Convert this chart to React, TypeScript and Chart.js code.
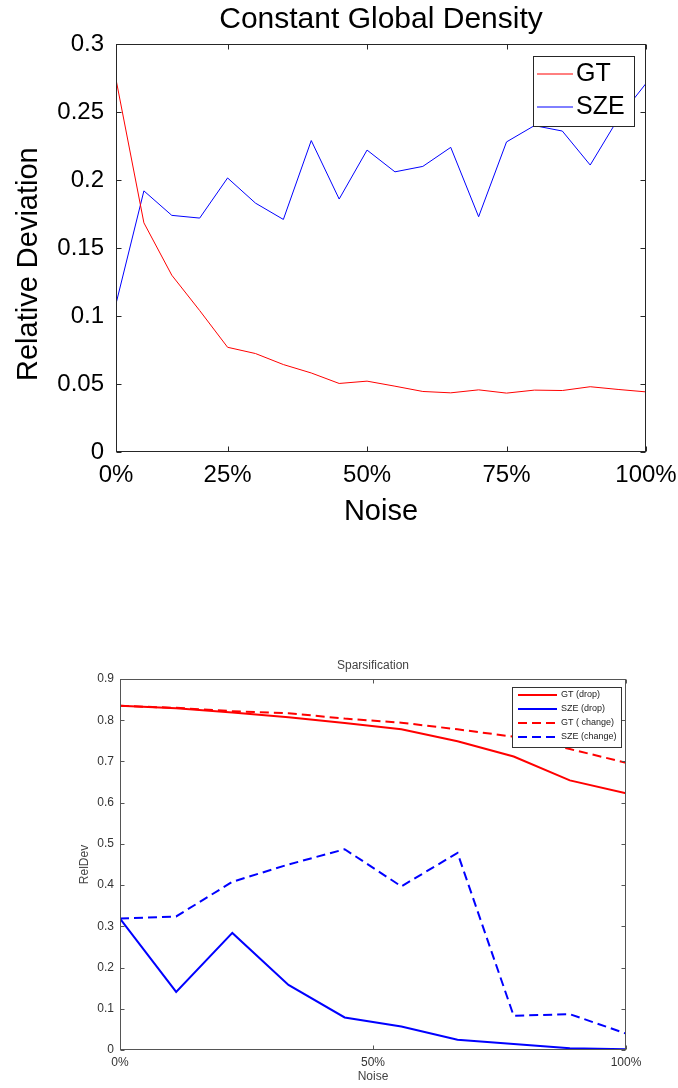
import React, { useEffect, useRef } from "react";
import { Chart, registerables } from "chart.js";

Chart.register(...registerables);

const FONT = "'Liberation Sans', Arial, Helvetica, sans-serif";

// ---------- Chart 1: Constant Global Density ----------
const topTitle = "Constant Global Density";
const topYLabel = "Relative Deviation    ";
const topNoiseIndex = [1, 2, 3, 4, 5, 6, 7, 8, 9, 10, 11, 12, 13, 14, 15, 16, 17, 18, 19, 20];
const topXTickValues = [1, 5, 10, 15, 20];
const topXTickLabels = ["0%", "25%", "50%", "75%", "100%"];
const topYTickValues = [0, 0.05, 0.1, 0.15, 0.2, 0.25, 0.3];
const topYTickLabels = ["0", "0.05", "0.1", "0.15", "0.2", "0.25", "0.3"];
const topGT = [0.274, 0.1685, 0.13, 0.104, 0.077, 0.0724, 0.0643, 0.0581, 0.0504, 0.0521, 0.0484, 0.0445, 0.0435, 0.0457, 0.0433, 0.0455, 0.0452, 0.048, 0.046, 0.0442];
const topSZE = [0.109, 0.192, 0.174, 0.172, 0.2015, 0.183, 0.171, 0.229, 0.186, 0.222, 0.206, 0.21, 0.224, 0.173, 0.228, 0.24, 0.236, 0.211, 0.245, 0.271];

// ---------- Chart 2: Sparsification ----------
const botTitle = "Sparsification";
const botNoise = [0, 11.1, 22.2, 33.3, 44.4, 55.6, 66.7, 77.8, 88.9, 100];
const botXTickValues = [0, 50, 100];
const botXTickLabels = ["0%", "50%", "100%"];
const botYTickValues = [0, 0.1, 0.2, 0.3, 0.4, 0.5, 0.6, 0.7, 0.8, 0.9];
const botYTickLabels = ["0", "0.1", "0.2", "0.3", "0.4", "0.5", "0.6", "0.7", "0.8", "0.9"];
const gtDrop = [0.835, 0.829, 0.819, 0.807, 0.793, 0.778, 0.749, 0.712, 0.654, 0.623];
const szeDrop = [0.319, 0.141, 0.284, 0.158, 0.079, 0.057, 0.025, 0.0145, 0.004, 0.002];
const gtChange = [0.835, 0.83, 0.822, 0.817, 0.804, 0.794, 0.778, 0.76, 0.73, 0.697];
const szeChange = [0.319, 0.324, 0.408, 0.45, 0.487, 0.397, 0.478, 0.083, 0.087, 0.04];

const pts = (xs: number[], ys: number[]) => xs.map((x, i) => ({ x, y: ys[i] }));

// Draws the MATLAB-style box with inward ticks on all four sides
const matBoxPlugin = {
  id: "matBox",
  afterDatasetsDraw(chart: any, _args: any, o: any) {
    const { ctx, chartArea: a, scales } = chart;
    const L = o.tickLen;
    ctx.save();
    ctx.strokeStyle = o.color;
    ctx.lineWidth = 1;
    ctx.beginPath();
    const l = Math.round(a.left) + 0.5;
    const r = Math.round(a.right) - 0.5;
    const t = Math.round(a.top) + 0.5;
    const b = Math.round(a.bottom) - 0.5;
    scales.x.ticks.forEach((tk: any) => {
      const px = Math.round(scales.x.getPixelForValue(tk.value)) + 0.5;
      ctx.moveTo(px, b);
      ctx.lineTo(px, b - L);
      ctx.moveTo(px, t);
      ctx.lineTo(px, t + L);
    });
    scales.y.ticks.forEach((tk: any) => {
      const py = Math.round(scales.y.getPixelForValue(tk.value)) + 0.5;
      ctx.moveTo(l, py);
      ctx.lineTo(l + L, py);
      ctx.moveTo(r, py);
      ctx.lineTo(r - L, py);
    });
    ctx.stroke();
    ctx.strokeRect(l, t, r - l, b - t);
    ctx.restore();
  },
};

// Boxed legend inside the plot (top-right)
const boxLegendPlugin = {
  id: "boxLegend",
  afterDraw(chart: any, _args: any, o: any) {
    const { ctx, chartArea: a } = chart;
    const x = Math.round(a.right - o.insetRight - o.w);
    const y = Math.round(a.top + o.insetTop);
    ctx.save();
    ctx.fillStyle = "#ffffff";
    ctx.fillRect(x, y, o.w, o.h);
    ctx.strokeStyle = o.border;
    ctx.lineWidth = 1;
    ctx.strokeRect(x + 0.5, y + 0.5, o.w, o.h);
    chart.data.datasets.forEach((ds: any, i: number) => {
      const cy = y + o.rows[i];
      ctx.strokeStyle = ds.borderColor;
      ctx.lineWidth = ds.borderWidth;
      ctx.setLineDash(ds.borderDash || []);
      ctx.beginPath();
      ctx.moveTo(x + o.lineX0, cy);
      ctx.lineTo(x + o.lineX1, cy);
      ctx.stroke();
      ctx.setLineDash([]);
      ctx.fillStyle = o.textColor;
      ctx.font = o.font;
      ctx.textBaseline = "middle";
      ctx.textAlign = "left";
      ctx.fillText(ds.label, x + o.textX, cy);
    });
    ctx.restore();
  },
};

function topConfig(): any {
  const tickFont = { family: FONT, size: 24 };
  const labelFont = { family: FONT, size: 29, lineHeight: 1.2 };
  const common = { xAxisID: "x", yAxisID: "y", borderWidth: 1, pointRadius: 0, tension: 0, fill: false };
  return {
    type: "line",
    data: {
      datasets: [
        { label: "GT", data: pts(topNoiseIndex, topGT), borderColor: "#ff0000", ...common },
        { label: "SZE", data: pts(topNoiseIndex, topSZE), borderColor: "#0000ff", ...common },
      ],
    },
    options: {
      responsive: false,
      animation: false,
      devicePixelRatio: 1,
      layout: { padding: { left: 0, right: 32, top: 0, bottom: 0 } },
      plugins: {
        legend: { display: false },
        tooltip: { enabled: false },
        title: { display: false },
        matBox: { color: "#262626", tickLen: 5 },
        boxLegend: {
          insetRight: 12, insetTop: 12, w: 101, h: 70, rows: [18, 51],
          lineX0: 4, lineX1: 40, textX: 43, font: `25px ${FONT}`, textColor: "#000", border: "#262626",
        },
      },
      scales: {
        x: {
          type: "linear",
          axis: "x",
          position: "bottom",
          min: 1,
          max: 20,
          grid: { display: false, drawTicks: false },
          border: { display: false },
          afterBuildTicks: (s: any) => { s.ticks = topXTickValues.map((v) => ({ value: v })); },
          afterFit: (s: any) => { s.height = 108; s.paddingLeft = 0; s.paddingRight = 0; },
          ticks: { callback: (_v: any, i: number) => topXTickLabels[i], font: tickFont, color: "#000", padding: 9, maxRotation: 0, autoSkip: false },
          title: { display: true, text: "Noise", color: "#000", font: labelFont, padding: { top: 0, bottom: 30.6 } },
        },
        y: {
          type: "linear",
          axis: "y",
          position: "left",
          min: 0,
          max: 0.3,
          grid: { display: false, drawTicks: false },
          border: { display: false },
          afterBuildTicks: (s: any) => { s.ticks = topYTickValues.map((v) => ({ value: v })); },
          afterFit: (s: any) => { s.width = 116; s.paddingTop = 0; s.paddingBottom = 0; },
          ticks: { callback: (_v: any, i: number) => topYTickLabels[i], font: tickFont, color: "#000", padding: 12, autoSkip: false },
          title: { display: true, text: topYLabel, color: "#000", font: labelFont, padding: { top: 12, bottom: 0 } },
        },
        titleAxis: {
          type: "linear",
          axis: "x",
          position: "top",
          min: 0,
          max: 1,
          grid: { display: false, drawTicks: false },
          border: { display: false },
          ticks: { display: false },
          afterFit: (s: any) => { s.height = 44; s.paddingLeft = 0; s.paddingRight = 0; },
          title: { display: true, text: topTitle, color: "#000", font: { family: FONT, size: 30, lineHeight: 1.2 }, padding: { top: 2, bottom: 0 } },
        },
      },
    },
    plugins: [matBoxPlugin, boxLegendPlugin],
  };
}

function botConfig(): any {
  const tickFont = { family: FONT, size: 12 };
  const labelFont = { family: FONT, size: 12, lineHeight: 1.2 };
  const common = { xAxisID: "x", yAxisID: "y", borderWidth: 2, pointRadius: 0, tension: 0, fill: false };
  return {
    type: "line",
    data: {
      datasets: [
        { label: "GT (drop)", data: pts(botNoise, gtDrop), borderColor: "#ff0000", ...common },
        { label: "SZE (drop)", data: pts(botNoise, szeDrop), borderColor: "#0000ff", ...common },
        { label: "GT ( change)", data: pts(botNoise, gtChange), borderColor: "#ff0000", borderDash: [9, 5], ...common },
        { label: "SZE (change)", data: pts(botNoise, szeChange), borderColor: "#0000ff", borderDash: [9, 5], ...common },
      ],
    },
    options: {
      responsive: false,
      animation: false,
      devicePixelRatio: 1,
      layout: { padding: { left: 0, right: 52, top: 0, bottom: 0 } },
      plugins: {
        legend: { display: false },
        tooltip: { enabled: false },
        title: { display: false },
        matBox: { color: "#555", tickLen: 4 },
        boxLegend: {
          insetRight: 5, insetTop: 8, w: 109, h: 60, rows: [8, 22, 36, 50],
          lineX0: 6, lineX1: 45, textX: 49, font: `9px ${FONT}`, textColor: "#222", border: "#333",
        },
      },
      scales: {
        x: {
          type: "linear",
          axis: "x",
          position: "bottom",
          min: 0,
          max: 100,
          grid: { display: false, drawTicks: false },
          border: { display: false },
          afterBuildTicks: (s: any) => { s.ticks = botXTickValues.map((v) => ({ value: v })); },
          afterFit: (s: any) => { s.height = 38; s.paddingLeft = 0; s.paddingRight = 0; },
          ticks: { callback: (_v: any, i: number) => botXTickLabels[i], font: tickFont, color: "#333", padding: 5, maxRotation: 0, autoSkip: false },
          title: { display: true, text: "Noise", color: "#444", font: labelFont, padding: { top: 0, bottom: 3.8 } },
        },
        y: {
          type: "linear",
          axis: "y",
          position: "left",
          min: 0,
          max: 0.9,
          grid: { display: false, drawTicks: false },
          border: { display: false },
          afterBuildTicks: (s: any) => { s.ticks = botYTickValues.map((v) => ({ value: v })); },
          afterFit: (s: any) => { s.width = 120; s.paddingTop = 0; s.paddingBottom = 0; },
          ticks: { callback: (_v: any, i: number) => botYTickLabels[i], font: tickFont, color: "#333", padding: 6, autoSkip: false },
          title: { display: true, text: "RelDev", color: "#444", font: labelFont, padding: { top: 77.8, bottom: 0 } },
        },
        titleAxis: {
          type: "linear",
          axis: "x",
          position: "top",
          min: 0,
          max: 1,
          grid: { display: false, drawTicks: false },
          border: { display: false },
          ticks: { display: false },
          afterFit: (s: any) => { s.height = 119; s.paddingLeft = 0; s.paddingRight = 0; },
          title: { display: true, text: botTitle, color: "#444", font: labelFont, padding: { top: 98.8, bottom: 0 } },
        },
      },
    },
    plugins: [matBoxPlugin, boxLegendPlugin],
  };
}

function ChartCanvas({ makeConfig, width, height, top }: { makeConfig: () => any; width: number; height: number; top: number }) {
  const ref = useRef<HTMLCanvasElement | null>(null);
  useEffect(() => {
    if (!ref.current) return;
    const chart = new Chart(ref.current, makeConfig());
    return () => chart.destroy();
  }, [makeConfig]);
  return (
    <canvas
      ref={ref}
      width={width}
      height={height}
      style={{ position: "absolute", left: 0, top, width, height, display: "block" }}
    />
  );
}

export default function App() {
  return (
    <div style={{ position: "absolute", left: 0, top: 0, width: 678, height: 1088, background: "#fff", overflow: "hidden" }}>
      <ChartCanvas makeConfig={topConfig} width={678} height={560} top={0} />
      <ChartCanvas makeConfig={botConfig} width={678} height={528} top={560} />
    </div>
  );
}
